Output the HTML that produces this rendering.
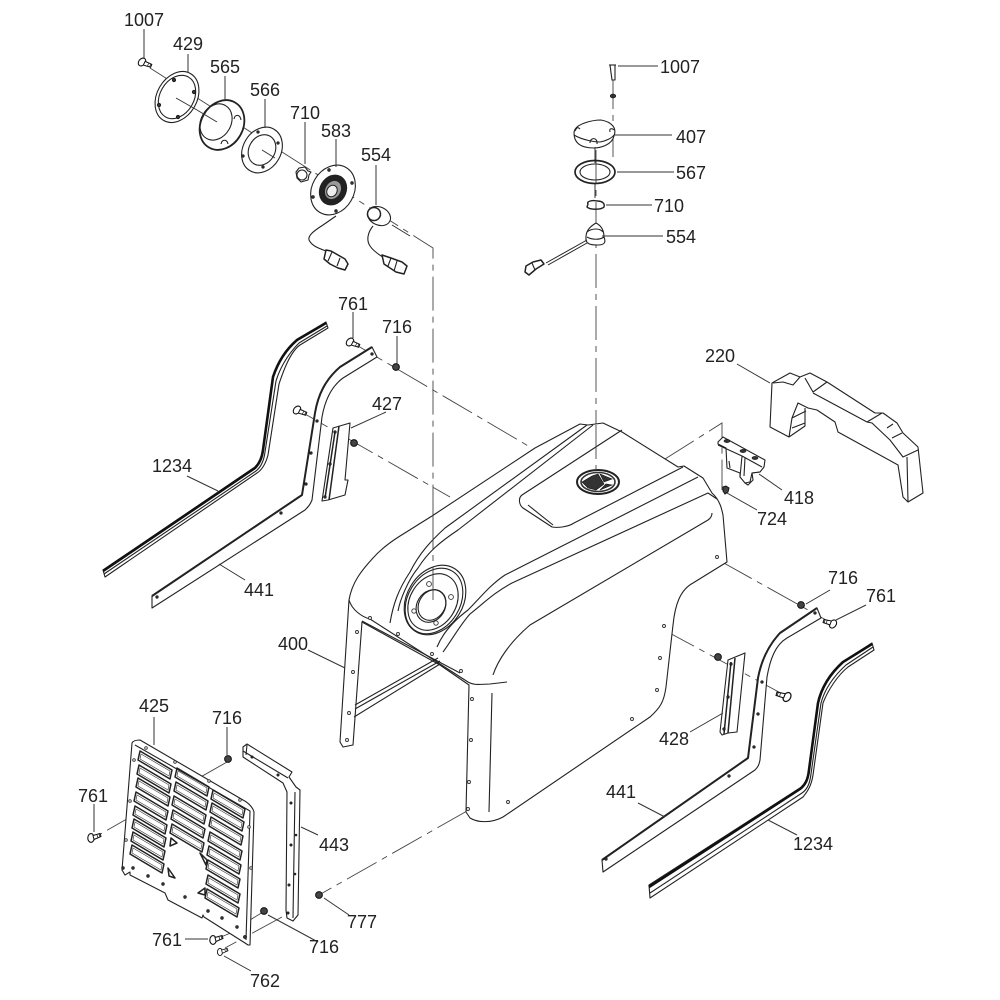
<!DOCTYPE html>
<html><head><meta charset="utf-8"><style>
html,body{margin:0;padding:0;background:#fff}
svg{display:block;filter:blur(.3px)}
text{font-family:"Liberation Sans",sans-serif;font-size:18px;fill:#222;text-anchor:middle}
.l{fill:none;stroke:#333;stroke-width:1}
.p{fill:#fff;stroke:#222;stroke-width:1.1;stroke-linejoin:round}
.t{fill:none;stroke:#222;stroke-width:1.1;stroke-linejoin:round}
.th{fill:none;stroke:#111;stroke-width:2.6}
.d{fill:none;stroke:#444;stroke-width:.9;stroke-dasharray:34 6 6 6}
.h{fill:#fff;stroke:#333;stroke-width:.9}
.k{fill:#333;stroke:#111;stroke-width:.6}
.n{fill:#444;stroke:#111;stroke-width:1}
.s{fill:none;stroke:#222;stroke-width:1.5;stroke-linejoin:round}
.s2{fill:none;stroke:#444;stroke-width:.7}
</style></head><body>
<svg width="1000" height="1000" viewBox="0 0 1000 1000" xmlns="http://www.w3.org/2000/svg">
<defs>
<g id="s"><path class="s" d="M0 0L32 19L30 28L-2 9Z"/><path class="s2" d="M1 3L30 20L29 25L0 8Z"/></g>
<g id="b"><ellipse cx="0" cy="0" rx="3.2" ry="4.4" fill="#fff" stroke="#111" stroke-width="1.1"/><path d="M2 -2.5L9 -4.5L10 -1.5L3 1.5Z" fill="#fff" stroke="#111"/><path d="M6 -3L7 0M8 -4L9 -1" stroke="#111" stroke-width=".7"/></g>
</defs>

<!-- axes -->
<g class="d">
<path d="M150 68L433 248V600"/>
<path d="M613 75V157"/><path d="M596 150V480"/>
<path d="M353 343L530 447"/>
<path d="M298 410L450 497"/>
<path d="M665 459L722 423V490"/>
<path d="M722 562L835 625"/>
<path d="M664 630L788 697"/>
<path d="M227 762L97 836"/>
<path d="M467 811L319 895"/>
<path d="M282 917L225 948"/>
<path d="M263 912L250 920"/>
<path d="M238 930L216 939"/>
</g>

<!-- hood -->
<path class="p" d="M349 600C352 582 362 570 373 558C382 548 392 541 400 536L432 516L535 448L580 424L588 425L603 423L622 432L678 467L684 466L703 478L712 493C720 500 722 510 723 515L727 562L693 583C680 590 675 605 673 625L666 687C664 702 660 708 650 717L503 817C492 823 478 823 470 818L466 812L469 685L440 665L362 622L353 745L343 747L340 742Z"/>
<path class="t" d="M349 600C352 610 362 617 370 619L468 682C475 686 482 684 490 684L507 682"/>
<path class="t" d="M362 621L460 673"/>
<path class="t" d="M355 705L438 658M355 709L440 661M354 717L440 664"/>
<path class="t" d="M390 623C393 605 398 590 410 572C420 552 432 540 445 528L587 425"/>
<path class="t" d="M398 611C400 600 408 580 418 568C428 552 440 542 458 530L593 425"/>
<path class="t" d="M437 647C442 635 452 622 468 610C480 598 490 585 505 575L698 477"/>
<path class="t" d="M443 652C452 640 460 625 470 614C485 602 495 592 512 583L708 493L717 499"/>
<path class="t" d="M493 675C498 660 510 642 530 625L708 520C711 518 712 515 712 513"/>
<path class="t" d="M622 430L522 495C518 498 519 505 523 508L552 527C558 528 568 527 574 523L683 467"/>
<path class="t" d="M528 505L553 525"/>
<path class="t" d="M492 693L489 812"/>
<ellipse class="p" cx="435" cy="600" rx="37" ry="28" transform="rotate(-58 435 600)"/>
<ellipse class="t" cx="434" cy="601" rx="35" ry="26" transform="rotate(-58 434 601)"/>
<ellipse class="t" cx="433" cy="602" rx="30" ry="23" transform="rotate(-58 433 602)"/>
<ellipse class="t" cx="431" cy="606" rx="17" ry="14" transform="rotate(-58 431 606)"/>
<ellipse class="t" cx="432" cy="605" rx="16" ry="13" transform="rotate(-58 432 605)"/>
<path class="d" d="M433 515V600"/>
<g class="h"><circle cx="429" cy="584" r="2.4"/><circle cx="451" cy="597" r="2.4"/><circle cx="414" cy="611" r="2.2"/><circle cx="436" cy="623" r="2.2"/>
<circle cx="370" cy="618" r="1.5"/><circle cx="398" cy="634" r="1.5"/><circle cx="432" cy="654" r="1.5"/><circle cx="461" cy="671" r="1.5"/>
<circle cx="357" cy="632" r="1.5"/><circle cx="353" cy="672" r="1.5"/><circle cx="349" cy="713" r="1.5"/><circle cx="347" cy="740" r="1.5"/>
<circle cx="472" cy="699" r="1.5"/><circle cx="471" cy="740" r="1.5"/><circle cx="469" cy="782" r="1.5"/><circle cx="468" cy="809" r="1.5"/><circle cx="508" cy="802" r="1.5"/>
<circle cx="632" cy="719" r="1.5"/><circle cx="657" cy="690" r="1.5"/><circle cx="660" cy="658" r="1.5"/><circle cx="664" cy="626" r="1.5"/><circle cx="717" cy="557" r="1.5"/></g>
<!-- top filler cap -->
<ellipse class="t" cx="598" cy="482" rx="21" ry="12" style="stroke-width:2"/>
<ellipse class="h" cx="598" cy="482" rx="17" ry="9.5" style="stroke-width:1.6"/>
<path class="k" d="M582 482L592 476L598 474L604 484L596 490L588 488ZM600 474L612 479L604 482ZM600 490L612 485L606 484Z"/>
<path class="d" d="M596 425V470"/>

<!-- top-left parts -->
<use href="#b" transform="translate(142 62) rotate(40)"/>
<ellipse class="p" cx="177" cy="97" rx="27" ry="20" transform="rotate(-60 177 97)"/>
<ellipse class="t" cx="177" cy="97" rx="23" ry="17" transform="rotate(-60 177 97)"/>
<g class="k"><circle cx="174" cy="80" r="1.8"/><circle cx="194" cy="92" r="1.8"/><circle cx="159" cy="105" r="1.8"/><circle cx="178" cy="117" r="1.8"/></g>
<path class="l" d="M176 98L197 110"/>
<ellipse class="p" cx="222" cy="125" rx="26" ry="21" transform="rotate(-60 222 125)" style="stroke-width:1.8"/>
<ellipse class="t" cx="216" cy="122" rx="19" ry="15" transform="rotate(-60 216 122)"/>
<path class="l" d="M197 110L217 122"/>
<path class="t" d="M234 119C235 114 240 114 241 120M221 144C222 139 227 139 228 144"/>
<ellipse class="p" cx="262" cy="150" rx="24" ry="19" transform="rotate(-60 262 150)"/>
<ellipse class="t" cx="262" cy="150" rx="16" ry="13" transform="rotate(-60 262 150)"/>
<path class="l" d="M262 150L275 158"/>
<g class="k"><circle cx="258" cy="132" r="1.3"/><circle cx="278" cy="143" r="1.3"/><circle cx="243" cy="156" r="1.3"/><circle cx="263" cy="167" r="1.3"/></g>
<path class="p" d="M296 172L299 168L305 167L308 171L311 172L309 175L308 180L301 182L297 178Z"/>
<ellipse class="t" cx="302" cy="175" rx="5" ry="5"/>
<ellipse class="p" cx="333" cy="190" rx="26" ry="21" transform="rotate(-60 333 190)"/>
<ellipse cx="333" cy="190" rx="16" ry="13.5" transform="rotate(-60 333 190)" fill="#222"/>
<ellipse cx="333" cy="190" rx="10" ry="8" transform="rotate(-60 333 190)" fill="#999" stroke="#222"/>
<ellipse cx="332" cy="191" rx="6" ry="5" transform="rotate(-60 332 191)" fill="#eee" stroke="#222"/>
<g class="k"><circle cx="329" cy="170" r="1.4"/><circle cx="352" cy="183" r="1.4"/><circle cx="313" cy="197" r="1.4"/><circle cx="336" cy="211" r="1.4"/></g>
<path class="t" d="M336 216L323 225C312 232 308 236 309 240C312 246 318 248 326 251"/>
<path class="p" d="M326 250L331 251L345 259L348 264L345 270L338 268L330 264L324 259Z" style="stroke-width:1.5"/>
<path class="t" d="M332 252L328 261M340 258L337 266"/>
<ellipse class="p" cx="379" cy="216" rx="12" ry="9" transform="rotate(25 379 216)"/>
<ellipse class="t" cx="374" cy="214" rx="6.5" ry="6.5" style="stroke-width:1.5"/>
<path class="l" d="M392 225L410 236"/>
<path class="t" d="M373 226C368 232 366 240 370 246C374 252 380 255 384 258"/>
<path class="p" d="M382 255L391 258L402 262L407 266L404 274L396 272L384 264Z" style="stroke-width:1.5"/>
<path class="t" d="M397 261L394 271M391 258L388 266"/>

<!-- top-right parts -->
<path class="p" d="M610 65H615L615 80H612Z"/><path class="t" d="M609 65H616"/>
<ellipse class="k" cx="613" cy="96" rx="2.8" ry="1.9" fill="#111"/>
<path class="p" d="M574 133C574 123 595 120 601 120C612 122 617 128 614 136C612 145 600 148 594 148C584 148 574 145 574 133Z"/>
<path class="t" d="M574 135C582 140 595 142 600 142C606 141 612 138 614 135"/>
<path class="t" d="M575 131C577 127 578 127 580 129M610 132C609 128 612 128 614 130M590 143C590 137 598 137 597 144"/>
<path class="l" d="M595 147V163"/>
<ellipse class="t" cx="595" cy="172" rx="20" ry="11.5" style="stroke-width:1.7"/>
<ellipse class="t" cx="595" cy="172" rx="15" ry="8"/>
<path class="l" d="M595 184V198"/>
<path class="t" d="M588 204C586 201 593 200 597 201C603 201 605 204 604 207C601 210 590 210 587 207Z" style="stroke-width:1.4"/>
<path class="p" d="M586 237C586 230 591 226 596 223C600 225 604 229 604 237C606 242 605 245 598 245C590 245 585 244 586 237Z"/>
<path class="t" d="M587 232C592 228 600 228 603 232M587 237C592 240 600 240 604 237"/>
<path class="t" d="M587 240L546 263M587 243L548 265" style="stroke-width:1"/>
<path class="p" d="M526 266L533 262L541 260L544 264L536 269L529 275L525 272Z" style="stroke-width:1.5"/>
<path class="t" d="M532 263L535 270"/>

<!-- 220 -->
<path class="p" d="M772 383L790 373L800 377L810 373L827 382L875 413L883 413L897 423L903 433L918 447L923 493L908 502L903 497L898 465L838 432L835 422L817 410L808 408L798 403L792 418L789 437L770 427Z"/>
<path class="t" d="M773 383L783 382L793 385L800 377M805 378L813 392L827 382M813 393L867 422L882 413M867 422L872 423L890 440L903 457L918 450M887 428L893 424M892 438L902 433M907 457L908 502M789 437L805 426V408M792 418L806 411M792 428L805 423"/>

<!-- 418 -->
<path class="p" d="M718 442L723 437L765 460L764 467L760 472L752 473L753 480L748 485L745 483L740 477L740 473L727 468L726 448L718 444Z"/>
<path class="t" d="M718 445L742 456L762 467M742 456L740 477M745 458L744 476M745 483L750 482L752 473L760 472M729 461L730 468"/>
<ellipse class="k" cx="727" cy="441" rx="3" ry="1.6"/><ellipse class="k" cx="743" cy="451" rx="3" ry="1.6"/><ellipse class="k" cx="755" cy="458" rx="3" ry="1.6"/>
<path class="n" d="M723 487L726 486L729 488L728 492L725 494L723 491Z"/>

<!-- left strips -->
<path class="p" d="M103 570L255 467C259 463 262 458 263 450L273 377C276 368 283 352 297 340L326 322L328 328L300 345C290 352 283 372 279 384L268 455C266 463 262 470 257 473L105 577Z"/>
<path class="th" d="M103 571L255 468C259 464 262 458 263 450L273 377C276 368 283 352 297 340L326 323"/>
<path class="t" d="M104 574L256 471C261 467 264 460 265 452L276 381C279 371 286 356 299 343L327 326"/>
<path class="p" d="M152 596L302 495L315 413C318 395 325 380 340 367L372 347L377 357L343 378C332 386 325 400 322 417L312 500C310 505 308 507 305 510L152 608Z"/>
<path class="t" style="stroke-width:2" d="M152 596L302 495L315 413C318 395 325 380 340 367L372 347"/>
<g class="k"><circle cx="157" cy="597" r="1.3"/><circle cx="281" cy="513" r="1.3"/><circle cx="306" cy="484" r="1.3"/><circle cx="311" cy="453" r="1.3"/><circle cx="317" cy="421" r="1.3"/><circle cx="372" cy="354" r="1.3"/></g>
<!-- 427 -->
<path class="p" d="M333 428L350 423L345 480L348 480L345 495L328 500L322 501Z"/>
<path class="t" d="M339 426L329 500M335 432L325 498" style="stroke-width:1.5"/>
<g class="k"><circle cx="335" cy="432" r="1.3"/><circle cx="330" cy="464" r="1.3"/><circle cx="325" cy="497" r="1.3"/></g>
<!-- fasteners left -->
<use href="#b" transform="translate(350 342) rotate(40)"/>
<use href="#b" transform="translate(297 410) rotate(40)"/>
<circle class="n" cx="396" cy="367" r="3.4"/><circle class="n" cx="354" cy="443" r="3.4"/>

<!-- right strips -->
<path class="p" d="M649 885L800 788C805 785 808 780 809 770L818 703C822 685 832 672 843 662L872 643L874 650L848 667C838 675 828 690 823 703L813 775C811 788 806 793 803 797L650 898Z"/>
<path class="th" d="M649 887L800 789C805 785 808 780 809 770L818 703C822 685 832 672 843 662L872 644"/>
<path class="t" d="M650 893L802 793C808 789 810 782 811 774L821 703C825 688 835 675 846 665L873 647"/>
<path class="p" d="M602 860L748 758L758 678C761 662 767 647 780 633L817 608L821 618L787 638C775 645 770 660 767 677L760 760C759 765 758 767 755 770L603 872Z"/>
<path class="t" style="stroke-width:2" d="M602 860L748 758L758 678C761 662 767 647 780 633L817 608"/>
<g class="k"><circle cx="606" cy="859" r="1.3"/><circle cx="729" cy="776" r="1.3"/><circle cx="754" cy="747" r="1.3"/><circle cx="758" cy="714" r="1.3"/><circle cx="762" cy="682" r="1.3"/><circle cx="815" cy="613" r="1.3"/></g>
<!-- 428 -->
<path class="p" d="M728 660L745 653L737 732L728 733L722 735L720 732Z"/>
<path class="t" d="M735 658L728 733M731 662L724 734" style="stroke-width:1.5"/>
<g class="k"><circle cx="731" cy="664" r="1.3"/><circle cx="728" cy="697" r="1.3"/><circle cx="724" cy="729" r="1.3"/></g>
<circle class="n" cx="718" cy="657" r="3.4"/><circle class="n" cx="801" cy="605" r="3.4"/>
<use href="#b" transform="translate(787 697) rotate(-145) scale(1.1)"/>
<use href="#b" transform="translate(833 624) rotate(-145)"/>

<!-- 425 grille -->
<path class="p" d="M132 743C133 741 136 740 140 740L243 800C249 803 253 808 254 812L250 945L248 945L245 943L204 917L203 915L202 918L168 900L165 893L130 875L130 872L125 875L122 870Z"/>
<path class="t" d="M135 745L250 811L246 940"/>
<use href="#s" x="140" y="751"/><use href="#s" x="139" y="765"/><use href="#s" x="138" y="778"/><use href="#s" x="136" y="792"/><use href="#s" x="135" y="806"/><use href="#s" x="134" y="819"/><use href="#s" x="133" y="832"/><use href="#s" x="132" y="845"/>
<use href="#s" x="177" y="768"/><use href="#s" x="176" y="782"/><use href="#s" x="174" y="796"/><use href="#s" x="173" y="810"/><use href="#s" x="172" y="824"/>
<use href="#s" x="213" y="790"/><use href="#s" x="212" y="803"/><use href="#s" x="211" y="817"/><use href="#s" x="210" y="832"/><use href="#s" x="209" y="846"/><use href="#s" x="208" y="860"/><use href="#s" x="208" y="875"/><use href="#s" x="207" y="889"/>
<path class="t" d="M171 838L177 843L170 846ZM200 853L207 860L206 865ZM168 868L175 878L169 876ZM205 888L198 893L205 895Z" style="stroke-width:1.5"/>
<g class="k"><circle cx="123" cy="868" r="1.4"/><circle cx="133" cy="868" r="1.4"/><circle cx="148" cy="876" r="1.4"/><circle cx="163" cy="884" r="1.4"/><circle cx="185" cy="897" r="1.4"/><circle cx="208" cy="911" r="1.4"/><circle cx="222" cy="918" r="1.4"/><circle cx="237" cy="927" r="1.4"/><circle cx="245" cy="937" r="1.6"/></g>
<g class="h"><circle cx="146" cy="748" r="1.3"/><circle cx="175" cy="762" r="1.3"/><circle cx="209" cy="781" r="1.3"/><circle cx="240" cy="800" r="1.3"/><circle cx="134" cy="760" r="1.3"/><circle cx="130" cy="801" r="1.3"/><circle cx="126" cy="840" r="1.3"/><circle cx="249" cy="827" r="1.3"/><circle cx="251" cy="868" r="1.3"/></g>
<!-- 443 -->
<path class="p" d="M243 747L247 744L292 772L289 777L296 787L300 790L298 915L293 921L287 918L286 910L287 792L283 783L243 757Z"/>
<path class="t" d="M243 751L288 778M295 792L293 918M247 745L246 755"/>
<g class="k"><circle cx="252" cy="757" r="1.2"/><circle cx="278" cy="775" r="1.2"/><circle cx="291" cy="803" r="1.2"/><circle cx="291" cy="845" r="1.2"/><circle cx="289" cy="885" r="1.2"/><circle cx="288" cy="913" r="1.2"/><circle cx="296" cy="835" r="1"/><circle cx="295" cy="874" r="1"/></g>
<!-- bottom fasteners -->
<circle class="n" cx="228" cy="759" r="3.4"/><circle class="n" cx="264" cy="911" r="3.4"/><circle class="n" cx="319" cy="895" r="3.4"/>
<use href="#b" transform="translate(91 838)"/>
<use href="#b" transform="translate(213 940)"/>
<use href="#b" transform="translate(220 952) scale(.8)"/>

<!-- leaders -->
<g class="l">
<path d="M144 29V59M188 54V72M225 76V101M265 99V128M305 122V164M336 139V167M376 165V205"/>
<path d="M618 66H658M615 135H672M617 172H674M606 205H652M602 236H663"/>
<path d="M353 312V338M397 336V365M351 428L386 412M770 383L737 364M759 474L782 490M727 493L757 510"/>
<path d="M187 476L218 491M219 564L245 580M308 650L345 668M154 717V745M227 727V755M94 804V832"/>
<path d="M301 827L318 835M324 898L349 915M268 915L318 942M185 939H208M224 956L251 971"/>
<path d="M806 604L830 590M836 620L866 605M723 713L690 732M638 803L665 817M768 820L797 835"/>
</g>

<!-- labels -->
<text x="144" y="26">1007</text><text x="188" y="50">429</text><text x="225" y="73">565</text><text x="265" y="96">566</text><text x="305" y="119">710</text><text x="336" y="137">583</text><text x="376" y="161">554</text>
<text x="680" y="73">1007</text><text x="691" y="143">407</text><text x="691" y="179">567</text><text x="669" y="212">710</text><text x="681" y="243">554</text>
<text x="353" y="310">761</text><text x="397" y="333">716</text><text x="387" y="410">427</text><text x="720" y="362">220</text><text x="799" y="504">418</text><text x="772" y="525">724</text>
<text x="172" y="472">1234</text><text x="259" y="596">441</text><text x="293" y="650">400</text><text x="154" y="712">425</text><text x="227" y="724">716</text><text x="93" y="802">761</text>
<text x="334" y="851">443</text><text x="362" y="928">777</text><text x="324" y="953">716</text><text x="167" y="946">761</text><text x="265" y="987">762</text>
<text x="843" y="584">716</text><text x="881" y="602">761</text><text x="674" y="745">428</text><text x="621" y="798">441</text><text x="813" y="850">1234</text>
</svg>
</body></html>
